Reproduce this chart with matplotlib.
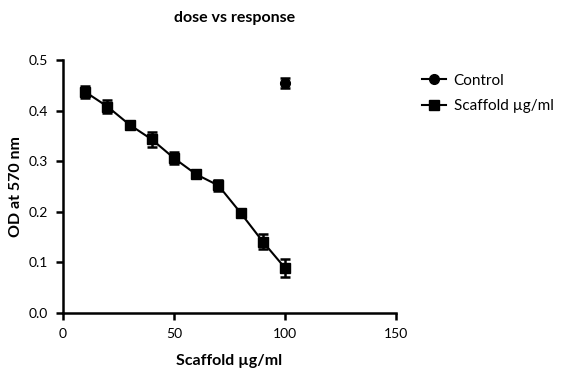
import matplotlib
matplotlib.use("Agg")
import matplotlib.pyplot as plt
import numpy as np

plt.rcParams['font.family'] = ['Lato', 'DejaVu Sans']

scaffold_x = [10, 20, 30, 40, 50, 60, 70, 80, 90, 100]
scaffold_y = [0.437, 0.408, 0.372, 0.343, 0.306, 0.274, 0.252, 0.198, 0.141, 0.089]
scaffold_err = [0.012, 0.012, 0.005, 0.015, 0.012, 0.005, 0.010, 0.005, 0.015, 0.017]
control_x = [100]
control_y = [0.454]
control_err = [0.010]

W, H = 582, 372
fig = plt.figure(figsize=(W/100, H/100), dpi=100)
ax = fig.add_axes([63/W, 1-313/H, (396-63)/W, (313-60)/H])

c = ax.errorbar(control_x, control_y, yerr=control_err, fmt='o-', color='black',
                markersize=7, capsize=3.5, elinewidth=1.8, capthick=1.8, lw=1.5)
s = ax.errorbar(scaffold_x, scaffold_y, yerr=scaffold_err, fmt='s-', color='black',
                markersize=7, capsize=3.5, elinewidth=1.8, capthick=1.8, lw=1.5)

ax.set_xlim(0, 150)
ax.set_ylim(0, 0.5)
ax.set_xticks([0, 50, 100, 150])
ax.set_yticks([0.0, 0.1, 0.2, 0.3, 0.4, 0.5])
ax.set_yticklabels(['0.0', '0.1', '0.2', '0.3', '0.4', '0.5'])
for sp in ['top', 'right']:
    ax.spines[sp].set_visible(False)
for sp in ['left', 'bottom']:
    ax.spines[sp].set_linewidth(1.8)
ax.tick_params(direction='out', width=1.8, length=5, labelsize=10, pad=6)

ax.set_xlabel('Scaffold µg/ml', fontsize=11.5, fontweight='bold', labelpad=10)
ax.set_ylabel('OD at 570 nm', fontsize=11.5, fontweight='bold', labelpad=4)
fig.text(235/W, 1-18/H, 'dose vs response', fontsize=11.5, fontweight='bold',
         ha='center', va='center')

ax.legend([c.lines[0], s.lines[0]], ['Control', 'Scaffold µg/ml'],
          loc='upper left', bbox_to_anchor=(414/W, 1-66/H), bbox_transform=fig.transFigure,
          frameon=False, fontsize=11, handlelength=1.6, labelspacing=0.75, borderpad=0,
          handletextpad=0.5)

fig.savefig('out.png', dpi=100)
